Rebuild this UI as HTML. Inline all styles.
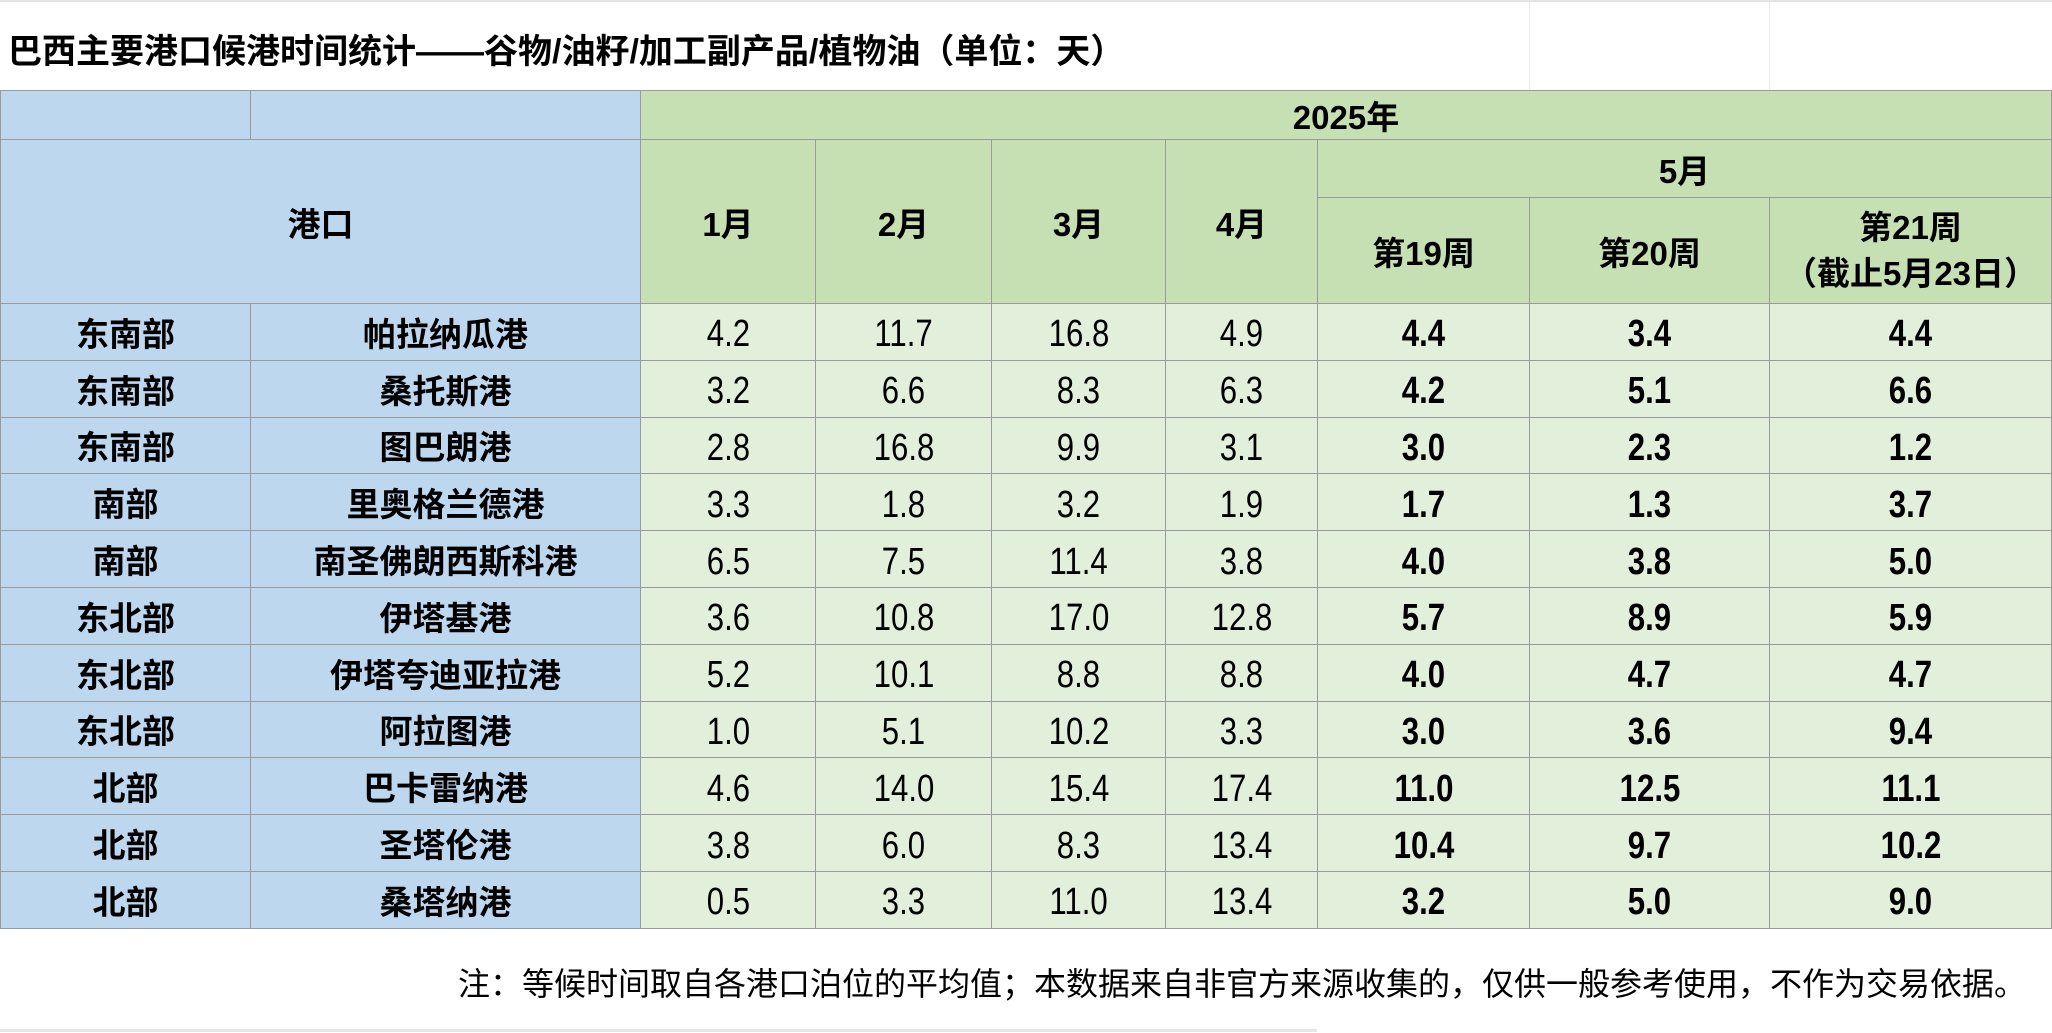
<!DOCTYPE html>
<html><head><meta charset="utf-8">
<style>
html,body{margin:0;padding:0;background:#fff;width:2052px;height:1033px;overflow:hidden;font-family:"Liberation Sans","Noto Sans CJK SC",sans-serif;}
#title{position:absolute;left:0;top:0;width:2052px;height:90px;border-top:2px solid #e4e4e4;box-sizing:border-box;}
#title span{position:absolute;left:8px;top:22px;font-size:34px;font-weight:bold;color:#000;}
.gl{position:absolute;top:0;width:1px;height:90px;background:#ececec;}
table{position:absolute;left:0;top:90px;border-collapse:collapse;table-layout:fixed;width:2051px;}
td{border:1.5px solid #9a9a9a;text-align:center;vertical-align:middle;padding:0;font-size:33px;color:#000;overflow:hidden;white-space:nowrap;}
.b{background:#BDD7EE;font-weight:bold;}
.g{background:#C6E0B4;font-weight:bold;}
.d{background:#E2EFDA;}
.n span{display:inline-block;transform:scaleX(0.82);font-size:38px;position:relative;top:3px;}
.bd{font-weight:bold;}
#note{position:absolute;right:26px;top:959px;font-size:32px;color:#000;}
#bl{position:absolute;left:0;top:1029px;width:1317px;height:3px;background:#e6e6e6;}
</style></head><body>
<div id="title"><span>巴西主要港口候港时间统计——谷物/油籽/加工副产品/植物油（单位：天）</span>
<div class="gl" style="left:1529px"></div><div class="gl" style="left:1769px"></div></div>
<table id="tbl">
<colgroup><col style="width:250px"><col style="width:390px"><col style="width:175px"><col style="width:176px"><col style="width:174px"><col style="width:152px"><col style="width:212px"><col style="width:240px"><col style="width:282px"></colgroup>
<tbody id="tb">
<tr style="height:47px"><td class="b"></td><td class="b"></td><td class="g" colspan="7">2025年</td></tr>
<tr style="height:58px"><td class="b" colspan="2" rowspan="2">港口</td>
<td class="g" rowspan="2">1月</td>
<td class="g" rowspan="2">2月</td>
<td class="g" rowspan="2">3月</td>
<td class="g" rowspan="2">4月</td>
<td class="g" colspan="3">5月</td></tr>
<tr style="height:106px"><td class="g">第19周</td><td class="g">第20周</td><td class="g" style="line-height:46px;white-space:normal">第21周<br>（截止5月23日）</td></tr>
</tbody></table>
<div id="note">注：等候时间取自各港口泊位的平均值；本数据来自非官方来源收集的，仅供一般参考使用，不作为交易依据。</div>
<div id="bl"></div>
<script>
const regions=["东南部","东南部","东南部","南部","南部","东北部","东北部","东北部","北部","北部","北部"];
const ports=["帕拉纳瓜港","桑托斯港","图巴朗港","里奥格兰德港","南圣佛朗西斯科港","伊塔基港","伊塔夸迪亚拉港","阿拉图港","巴卡雷纳港","圣塔伦港","桑塔纳港"];
const jan=["4.2","3.2","2.8","3.3","6.5","3.6","5.2","1.0","4.6","3.8","0.5"];
const feb=["11.7","6.6","16.8","1.8","7.5","10.8","10.1","5.1","14.0","6.0","3.3"];
const mar=["16.8","8.3","9.9","3.2","11.4","17.0","8.8","10.2","15.4","8.3","11.0"];
const apr=["4.9","6.3","3.1","1.9","3.8","12.8","8.8","3.3","17.4","13.4","13.4"];
const wk19=["4.4","4.2","3.0","1.7","4.0","5.7","4.0","3.0","11.0","10.4","3.2"];
const wk20=["3.4","5.1","2.3","1.3","3.8","8.9","4.7","3.6","12.5","9.7","5.0"];
const wk21=["4.4","6.6","1.2","3.7","5.0","5.9","4.7","9.4","11.1","10.2","9.0"];
const tb=document.getElementById('tb');
for(let i=0;i<ports.length;i++){
  const tr=document.createElement('tr');tr.style.height='56.8px';
  const c1=document.createElement('td');c1.className='b';c1.textContent=regions[i];
  
  
  tr.appendChild(c1);
  const c2=document.createElement('td');c2.className='b';c2.textContent=ports[i];
  
  
  tr.appendChild(c2);
  [jan,feb,mar,apr,wk19,wk20,wk21].forEach((arr,j)=>{
    const c=document.createElement('td');c.className='d n'+(j>=4?' bd':'');
    const s=document.createElement('span');s.textContent=arr[i];c.appendChild(s);
    
    
    tr.appendChild(c);
  });
  tb.appendChild(tr);
}
</script>
</body></html>
